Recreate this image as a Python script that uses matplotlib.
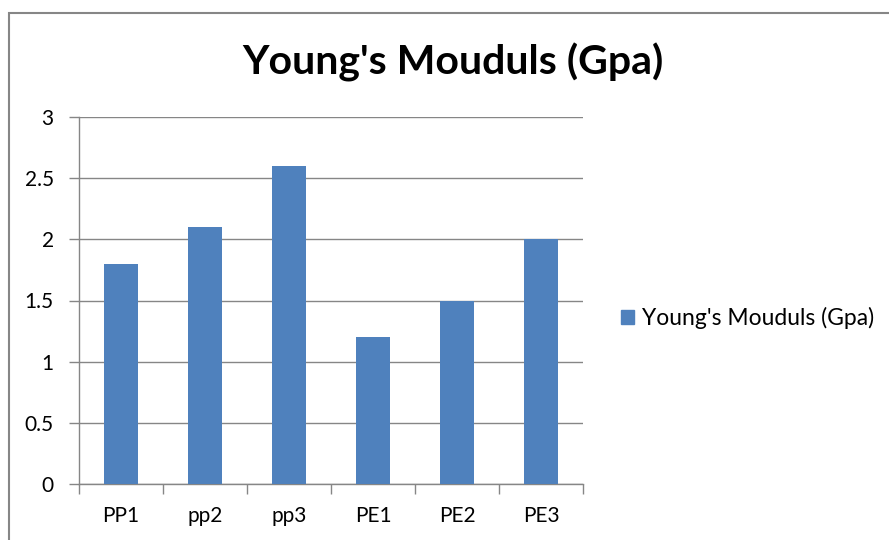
import matplotlib
matplotlib.use("Agg")
import matplotlib.pyplot as plt
from matplotlib.patches import Rectangle, Patch
from matplotlib.ticker import FixedLocator
import numpy as np

categories = ["PP1", "pp2", "pp3", "PE1", "PE2", "PE3"]
values = [1.8, 2.1, 2.6, 1.2, 1.5, 2.0]
series_name = "Young's Mouduls (Gpa)"
title = "Young's Mouduls (Gpa)"
ytick_vals = [0, 0.5, 1, 1.5, 2, 2.5, 3]
ytick_labels = ["0", "0.5", "1", "1.5", "2", "2.5", "3"]

W, H = 889, 540
fig = plt.figure(figsize=(W / 100, H / 100), dpi=100)
plt.rcParams['font.family'] = ['Lato', 'DejaVu Sans']

# chart border
fig.patches.append(Rectangle((9 / W, -0.1), 1.2, (H - 13) / H + 0.1, transform=fig.transFigure,
                             fill=False, edgecolor="#868686", linewidth=1.5))

ax = fig.add_axes([79 / W, (H - 484) / H, (583 - 79) / W, (484 - 117) / H])
x = np.arange(len(categories))
ax.bar(x, values, width=0.4, color="#4F81BD", linewidth=0, zorder=3, label=series_name)
ax.set_xlim(-0.5, len(categories) - 0.5)
ax.set_ylim(0, 3)
ax.set_yticks(ytick_vals)
ax.set_yticklabels(ytick_labels)
ax.grid(axis="y", color="#868686", linewidth=1.0, zorder=0)
ax.set_xticks(x)
ax.set_xticklabels(categories)
ax.xaxis.set_minor_locator(FixedLocator(np.arange(-0.5, len(categories), 1.0)))
ax.tick_params(axis="x", which="major", length=0, pad=16, labelsize=15, labelcolor="#000000")
ax.tick_params(axis="x", which="minor", length=7.2, width=1, color="#868686")
ax.tick_params(axis="y", length=7.2, width=1, color="#868686", pad=11, labelsize=15)
for s in ["top", "right"]:
    ax.spines[s].set_visible(False)
for s in ["left", "bottom"]:
    ax.spines[s].set_color("#868686")
    ax.spines[s].set_linewidth(1.0)

fig.text(453 / W, (H - 62) / H, title, ha="center", va="center", fontsize=29.5, fontweight="bold")

handles = [Patch(facecolor="#4F81BD", edgecolor="#4F81BD")]
fig.legend(handles, [series_name], loc="center left", bbox_to_anchor=(621 / W, (H - 318) / H),
           frameon=False, fontsize=16.5, handlelength=0.55, handleheight=0.55, handletextpad=0.35,
           borderaxespad=0, borderpad=0)

fig.savefig("out.png", dpi=100, facecolor="white")
